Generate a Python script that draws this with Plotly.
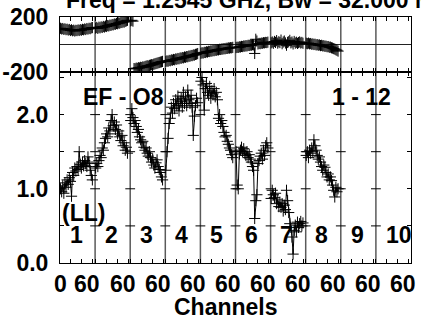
import plotly.graph_objects as go

# ---------------- data ----------------
NCHAN = 64  # channels per IF panel
if_numbers = [1, 2, 3, 4, 5, 6, 7, 8, 9, 10]
channels = [1, 3, 5, 7, 9, 11, 13, 15, 17, 19, 21, 23, 25, 27, 29,
            31, 33, 35, 37, 39, 41, 43, 45, 47, 49, 51, 53, 55, 57, 59]

amp_if1 = [1.00, 0.96, 1.04, 0.94, 1.08, 1.02, 1.12, 1.06, 1.15, 1.10, 0.90, 1.22, 1.18, 1.28, 1.24,
           1.30, 1.26, 1.50, 1.33, 1.28, 1.36, 1.31, 1.38, 1.34, 1.30, 1.43, 1.36, 1.25, 1.18, 1.12]
amp_if2 = [1.28, 1.34, 1.30, 1.38, 1.45, 1.42, 1.55, 1.52, 1.62, 1.68, 1.74, 1.70, 1.82, 1.78, 1.92,
           2.00, 1.85, 1.90, 1.80, 1.86, 1.74, 1.78, 1.70, 1.65, 1.72, 1.58, 1.62, 1.52, 1.56, 1.48]
amp_if3 = [1.92, 2.08, 1.96, 1.88, 1.92, 1.84, 1.76, 1.80, 1.70, 1.66, 1.62, 1.64, 1.56, 1.52, 1.55,
           1.48, 1.44, 1.50, 1.42, 1.36, 1.40, 1.32, 1.28, 1.35, 1.39, 1.30, 1.26, 1.22, 1.16, 1.12]
amp_if4 = [1.25, 1.50, 1.68, 1.88, 1.95, 2.10, 2.02, 2.15, 2.08, 2.20, 2.12, 2.25, 2.05, 2.18, 2.22,
           2.10, 2.30, 2.15, 2.24, 2.12, 2.33, 2.20, 2.15, 2.26, 2.10, 1.72, 1.98, 2.12, 2.22, 2.16]
amp_if5 = [2.45, 2.50, 2.40, 2.06, 2.35, 2.42, 2.30, 2.26, 2.38, 2.22, 2.32, 2.28, 2.35, 2.24, 2.30,
           2.20, 1.95, 2.00, 1.88, 1.92, 1.84, 1.76, 1.70, 1.72, 1.64, 1.60, 1.55, 1.52, 1.46, 1.42]
amp_if6 = [1.50, 1.05, 1.00, 1.47, 1.52, 1.56, 1.50, 1.54, 1.48, 1.45, 1.50, 1.42, 1.46, 1.40, 1.36,
           1.30, 1.25, 0.60, 0.84, 0.92, 1.34, 1.38, 1.44, 1.48, 1.40, 1.52, 1.45, 1.58, 1.62, 1.55]
amp_if7 = [0.87, 0.98, 0.92, 0.88, 0.94, 0.80, 0.85, 0.76, 0.82, 0.75, 0.80, 0.70, 0.78, 0.72, 0.98,
           0.84, 0.68, 0.53, 0.48, 0.35, 0.12, 0.44, 0.51, 0.42, 0.55, 0.48, 0.53, 0.56, 0.50, 0.54]
amp_if8 = [1.45, 1.50, 1.42, 1.52, 1.48, 1.55, 1.50, 1.66, 1.58, 1.52, 1.45, 1.40, 1.43, 1.36, 1.30,
           1.25, 1.32, 1.29, 1.22, 1.16, 1.20, 1.12, 1.16, 1.11, 1.05, 0.98, 0.89, 1.02, 0.96, 1.00]
amp_if9 = []
amp_if10 = []

phase_if1 = [118, 113, 116, 110, 114, 108, 111, 105, 109, 102, 107, 100, 104, 98, 103,
             101, 106, 102, 108, 104, 110, 107, 113, 109, 116, 112, 118, 115, 121, 123]
phase_if2 = [119, 124, 117, 126, 121, 128, 124, 131, 127, 134, 131, 138, 135, 141, 139,
             145, 143, 149, 147, 153, 151, 157, 155, 161, 160, 165, 163, 169, 172, 176]
phase_if3 = [172, 176, 170, -175, -177, -172, -174, -169, -171, -166, -168, -163, -165, -160, -158,
             -155, -157, -152, -150, -147, -148, -143, -141, -138, -136, -133, -131, -128, -126, -123]
phase_if4 = [-124, -119, -122, -116, -118, -112, -114, -109, -111, -105, -107, -102, -104, -98, -100,
             -95, -97, -91, -93, -88, -89, -84, -85, -80, -81, -76, -77, -72, -70, -66]
phase_if5 = [-64, -60, -62, -57, -58, -53, -55, -50, -51, -47, -48, -44, -45, -41, -42,
             -38, -39, -35, -36, -33, -33, -30, -31, -28, -28, -25, -26, -23, -24, -21]
phase_if6 = [-22, -20, -21, -17, -18, -14, -15, -11, -12, -9, -10, -6, -7, -4, -5,
             -1, -2, -65, 38, 25, 4, 8, 6, 10, 9, 13, 12, 15, 14, 17]
phase_if7 = [12, 18, 9, 22, 15, 28, 10, 20, 14, 32, 6, 18, 25, 11, -5,
             15, 20, 30, 12, 18, 4, 22, 10, 16, 8, 14, 19, 11, 15, 9]
phase_if8 = [9, 6, 10, 5, 7, 2, 4, 0, 2, -3, -1, -5, -3, -8, -6,
             -10, -9, -13, -12, -16, -15, -20, -19, -24, -26, -30, -33, -38, -42, -48]
phase_if9 = []
phase_if10 = []

amp_ticks = [0.0, 0.5, 1.0, 1.5, 2.0, 2.5]
amp_ticktext = ["0.0", "", "1.0", "", "2.0", ""]
phase_ticks = [-200, 200]
phase_ticktext = ["-200", "200"]
chan_ticks = [0, 20, 40, 60]
chan_ticktext = ["0", "60"]

title_text = "Freq = 1.2545 GHz, Bw = 32.000 MHz"
baseline_text = "EF - O8"
time_text = "1 - 12"
pol_text = "(LL)"
x_title = "Channels"

amp_all = [amp_if1, amp_if2, amp_if3, amp_if4, amp_if5, amp_if6, amp_if7, amp_if8, amp_if9, amp_if10]
phase_all = [phase_if1, phase_if2, phase_if3, phase_if4, phase_if5, phase_if6, phase_if7, phase_if8, phase_if9, phase_if10]

# ---------------- build series ----------------
ax, ay = [], []
for k, amps in enumerate(amp_all):
    for c, a in zip(channels, amps):
        ax.append(k * NCHAN + c)
        ay.append(a)
    ax.append(None)
    ay.append(None)

px, py = [], []
for k, ph in enumerate(phase_all):
    prev = None
    for c, p in zip(channels, ph):
        if prev is not None and abs(p - prev) > 180:
            px.append(None)
            py.append(None)
        px.append(k * NCHAN + c)
        py.append(p)
        prev = p
    px.append(None)
    py.append(None)

FONT = dict(family="Liberation Sans, Arial, sans-serif", size=23, color="black", weight="bold")
mk = dict(symbol="cross-thin", size=8, line=dict(width=1, color="black"), color="black")

fig = go.Figure()
fig.add_trace(go.Scatter(x=ax, y=ay, mode="lines+markers", xaxis="x", yaxis="y",
                         line=dict(color="black", width=1), marker=mk, connectgaps=False,
                         showlegend=False, cliponaxis=True))
fig.add_trace(go.Scatter(x=px, y=py, mode="lines+markers", xaxis="x2", yaxis="y2",
                         line=dict(color="black", width=1), marker=mk, connectgaps=False,
                         showlegend=False, cliponaxis=True))

# ticks on IF boundary lines (amplitude panel)
bx, by = [], []
for k in range(1, len(if_numbers)):
    for v in amp_ticks[1:5]:
        bx.append(k * NCHAN)
        by.append(v)
fig.add_trace(go.Scatter(x=bx, y=by, mode="markers", xaxis="x", yaxis="y",
                         marker=dict(symbol="line-ew", size=7, line=dict(width=1, color="black")),
                         showlegend=False, hoverinfo="skip"))

xt = [k * NCHAN + t for k in range(len(if_numbers)) for t in chan_ticks] + [len(if_numbers) * NCHAN]
nif = len(if_numbers)
split = 0.7764

common_x = dict(range=[0, nif * NCHAN], tickvals=xt, showticklabels=False, ticks="inside",
                ticklen=4, tickwidth=1, tickcolor="black", showline=True, linecolor="black",
                linewidth=1, mirror="ticks", showgrid=False, zeroline=False, automargin=False)

fig.update_layout(
    width=421, height=320, autosize=False,
    margin=dict(l=60, r=10, t=17, b=57, pad=0),
    paper_bgcolor="white", plot_bgcolor="white",
    font=FONT,
    xaxis=dict(anchor="y", domain=[0, 1], **common_x),
    xaxis2=dict(anchor="y2", domain=[0, 1], matches="x", **common_x),
    yaxis=dict(domain=[0, split], range=[0, 2.574], tickvals=amp_ticks, ticktext=amp_ticktext,
               ticks="inside", ticklen=4, tickwidth=1, tickcolor="black", showline=True,
               linecolor="black", linewidth=1, mirror="ticks", showgrid=False, zeroline=False,
               tickfont=FONT, ticklabelstandoff=6, automargin=False),
    yaxis2=dict(domain=[split, 1], range=[-200, 200], tickvals=phase_ticks, ticktext=phase_ticktext,
                ticks="", showline=True, linecolor="black", linewidth=1, mirror=True,
                showgrid=False, zeroline=True, zerolinecolor="#222", zerolinewidth=1,
                tickfont=FONT, ticklabelstandoff=6, automargin=False),
)

# IF boundary lines
for k in range(1, nif):
    fig.add_shape(type="line", xref="x", yref="paper", x0=k * NCHAN, x1=k * NCHAN, y0=0, y1=1,
                  line=dict(color="#5a5a5a", width=1.5), layer="below")

ann = []
# channel tick labels
ann.append(dict(text=chan_ticktext[0], x=0, xref="x", y=-0.085, yref="paper",
                xanchor="center", yanchor="middle"))
for k in range(nif):
    ann.append(dict(text=chan_ticktext[1], x=k * NCHAN + 50, xref="x", y=-0.085, yref="paper",
                    xanchor="center", yanchor="middle"))
ann.append(dict(text=x_title, x=0.473, xref="paper", y=-0.178, yref="paper",
                xanchor="center", yanchor="middle"))
ann.append(dict(text=title_text, x=5 / 351, xref="paper", y=1.068, yref="paper",
                xanchor="left", yanchor="middle"))
ann.append(dict(text=baseline_text, x=41, xref="x", y=2.232, yref="y",
                xanchor="left", yanchor="middle"))
ann.append(dict(text=time_text, x=495, xref="x", y=2.232, yref="y",
                xanchor="left", yanchor="middle"))
ann.append(dict(text=pol_text, x=2, xref="x", y=0.668, yref="y",
                xanchor="left", yanchor="middle"))
for k, n in enumerate(if_numbers):
    ann.append(dict(text=str(n), x=k * NCHAN + 16, xref="x", y=0.372, yref="y",
                    xanchor="left", yanchor="middle"))
for a in ann:
    a["showarrow"] = False
    a["font"] = FONT
    a["borderpad"] = 0
fig.update_layout(annotations=ann)

fig.write_html("out.html", config={"displayModeBar": False},
               post_script="document.body.style.margin='0px';")
